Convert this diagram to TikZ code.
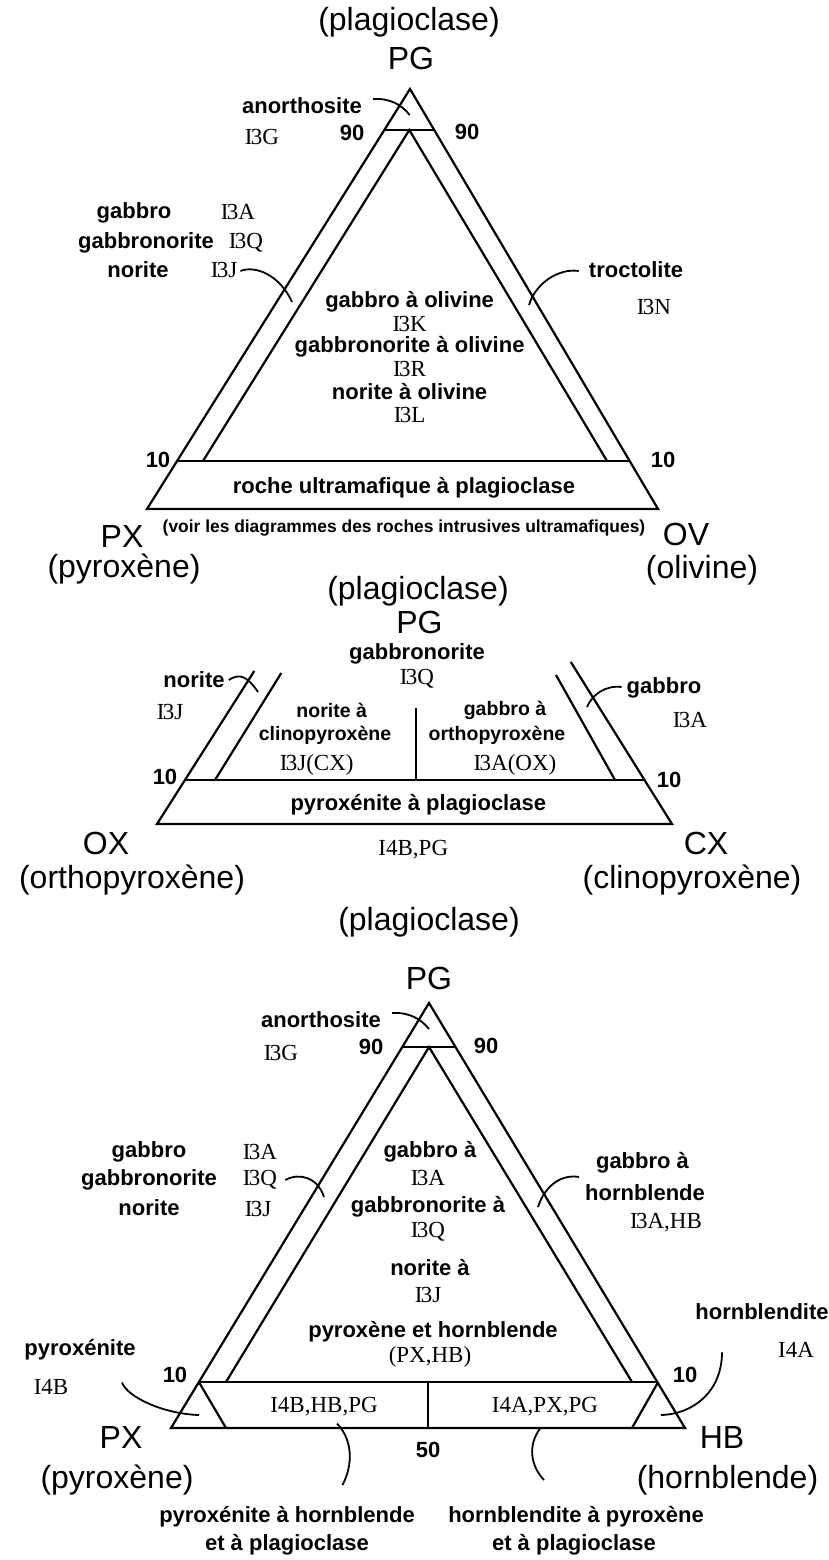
\documentclass[tikz,border=0pt]{standalone}
\usepackage{fontspec}
\setmainfont{Liberation Sans}
\newfontfamily\codefont{Liberation Serif}
\usetikzlibrary{calc}
\newcommand{\Ithree}{I\kern-0.07em 3}
\begin{document}
\begin{tikzpicture}[x=1pt,y=-1pt,
  trline/.style={line width=2.2pt, line join=miter, line cap=butt},
  ldr/.style={line width=1.8pt},
  bigl/.style={inner sep=0pt, font=\fontsize{32}{36}\selectfont},
  lbl/.style={inner sep=0pt, font=\fontsize{22}{24}\selectfont\bfseries},
  lbls/.style={inner sep=0pt, font=\fontsize{19.5}{22}\selectfont\bfseries},
  rcode/.style={inner sep=0pt, font=\codefont\fontsize{23}{25}\selectfont},
  numl/.style={inner sep=0pt, font=\fontsize{22}{24}\selectfont\bfseries},
]
\fill[white] (0,0) rectangle (829,1560);
\useasboundingbox (0,0) rectangle (829,1560);

% ---------- PG - PX - OV ----------
\coordinate (tA) at (410,89);
\coordinate (tL) at (147,509);
\coordinate (tR) at (658,509);
\coordinate (t90L) at (384.3,130);
\coordinate (t90R) at (434.2,130);
\coordinate (t10L) at (177,461);
\coordinate (t10R) at (629.7,461);
\coordinate (tI) at (409.3,130);
\coordinate (tIL) at (203,461);
\coordinate (tIR) at (607,461);
\draw[trline] (tA) -- (tL) -- (tR) -- cycle;
\draw[trline] (t90L) -- (t90R);
\draw[trline] (t10L) -- (t10R);
\draw[trline] (tIL) -- (tI) -- (tIR);

\node[bigl] (tplag) at (409,22) {(plagioclase)};
\node[bigl] (tPG) at (411,58) {PG};
\node[lbl] (tanor) at (302,106) {anorthosite};
\node[rcode] (tI3G) at (262,137) {\Ithree G};
\node[numl] (t90a) at (352,133) {90};
\node[numl] (t90b) at (467,132) {90};
\node[lbl] (tgab) at (134,213) {gabbro};
\node[lbl] (tgabn) at (146,243) {gabbronorite};
\node[lbl] (tnor) at (138,270) {norite};
\node[rcode] (tI3A) at (238,212) {\Ithree A};
\node[rcode] (tI3Q) at (246,243) {\Ithree Q};
\node[rcode] (tI3J) at (224,270) {\Ithree J};
\node[lbl] (ttroc) at (636,270) {troctolite};
\node[rcode] (tI3N) at (654,307) {\Ithree N};
\node[lbl] (tc1) at (409.6,302) {gabbro à olivine};
\node[rcode] (tc2) at (409.6,324) {\Ithree K};
\node[lbl] (tc3) at (409.6,347) {gabbronorite à olivine};
\node[rcode] (tc4) at (409.6,369) {\Ithree R};
\node[lbl] (tc5) at (409.6,392) {norite à olivine};
\node[rcode] (tc6) at (409.6,415) {\Ithree L};
\node[numl] (t10a) at (158,460) {10};
\node[numl] (t10b) at (663,460) {10};
\node[lbl] (troche) at (404,488) {roche ultramafique à plagioclase};
\node[inner sep=0pt, font=\fontsize{17.4}{19}\selectfont\bfseries] (tvoir) at (404,528)
  {(voir les diagrammes des roches intrusives ultramafiques)};
\node[bigl] (tPX) at (122,536) {PX};
\node[bigl] (tOV) at (686,534) {OV};
\node[bigl] (tpyx) at (124,569) {(pyroxène)};
\node[bigl] (toliv) at (702,570) {(olivine)};

\coordinate (tanorE) at (409.6,115);
\coordinate (tI3JE) at (292,302);
\coordinate (ttrocE) at (529,305);
\draw[ldr] ($(tanor.east)+(11,-7)$) .. controls (390,98) and (402,105) .. (tanorE);
\draw[ldr] ($(tI3J.east)+(3,1)$) .. controls (255,265) and (280,275) .. (tI3JE);
\draw[ldr] ($(ttroc.west)+(-10,1)$) .. controls (560,268) and (536,282) .. (ttrocE);

% ---------- PG - OX - CX ----------
\coordinate (mL) at (157,824);
\coordinate (mR) at (672,824);
\coordinate (mLt) at (254.3,671);
\coordinate (mRt) at (570.8,662);
\coordinate (m10L) at (185,780);
\coordinate (m10R) at (644.5,780);
\coordinate (mIL) at (215,780);
\coordinate (mILt) at (281.3,673);
\coordinate (mIR) at (615,780);
\coordinate (mIRt) at (556,675);
\coordinate (mDt) at (416,708);
\coordinate (mDb) at (416,780);
\draw[trline] (mLt) -- (mL) -- (mR) -- (mRt);
\draw[trline] (m10L) -- (m10R);
\draw[trline] (mIL) -- (mILt);
\draw[trline] (mIR) -- (mIRt);
\draw[trline] (mDt) -- (mDb);

\node[bigl] (mplag) at (418,591) {(plagioclase)};
\node[bigl] (mPG) at (419.5,622) {PG};
\node[lbl] (mgabn) at (417,654) {gabbronorite};
\node[rcode] (mI3Q) at (417,679) {\Ithree Q};
\node[lbl] (mnor) at (194,680) {norite};
\node[rcode] (mI3J) at (170,712) {\Ithree J};
\node[lbl] (mgab) at (664,688) {gabbro};
\node[rcode] (mI3A) at (690,720) {\Ithree A};
\node[lbls] (ml1) at (331.7,710) {norite à};
\node[lbls] (ml2) at (325,735) {clinopyroxène};
\node[rcode] (ml3) at (316.7,765) {\Ithree J(CX)};
\node[lbls] (mr1) at (505,710) {gabbro à};
\node[lbls] (mr2) at (497,735) {orthopyroxène};
\node[rcode] (mr3) at (515,765) {\Ithree A(OX)};
\node[numl] (m10a) at (165,777) {10};
\node[numl] (m10b) at (669,780) {10};
\node[lbl] (mpyr) at (418.3,805) {pyroxénite à plagioclase};
\node[rcode] (mI4B) at (413.3,850) {I4B,PG};
\node[bigl] (mOX) at (106,843) {OX};
\node[bigl] (mCX) at (706,843) {CX};
\node[bigl] (mopx) at (132,880) {(orthopyroxène)};
\node[bigl] (mcpx) at (692,880) {(clinopyroxène)};

\coordinate (mnorE) at (258,692);
\coordinate (mgabE) at (587,707);
\draw[ldr] ($(mnor.east)+(4,0)$) .. controls (238,674) and (246,674) .. (mnorE);
\draw[ldr] ($(mgab.west)+(-5,-1)$) .. controls (605,685) and (592,695) .. (mgabE);

% ---------- PG - PX - HB ----------
\coordinate (bA) at (429,1003);
\coordinate (bL) at (171,1428);
\coordinate (bR) at (685,1428);
\coordinate (b90L) at (402.3,1047);
\coordinate (b90R) at (455.6,1047);
\coordinate (b10L) at (198.9,1382);
\coordinate (b10R) at (658.2,1382);
\coordinate (bI) at (429,1047);
\coordinate (bIL) at (226,1382);
\coordinate (bIR) at (632,1382);
\coordinate (bSL) at (226,1428);
\coordinate (bSR) at (632,1428);
\coordinate (bDt) at (428,1382);
\coordinate (bDb) at (428,1428);
\draw[trline] (bA) -- (bL) -- (bR) -- cycle;
\draw[trline] (b90L) -- (b90R);
\draw[trline] (b10L) -- (b10R);
\draw[trline] (bIL) -- (bI) -- (bIR);
\draw[trline] (b10L) -- (bSL);
\draw[trline] (b10R) -- (bSR);
\draw[trline] (bDt) -- (bDb);

\node[bigl] (bplag) at (429,922) {(plagioclase)};
\node[bigl] (bPG) at (429,978) {PG};
\node[lbl] (banor) at (321,1020) {anorthosite};
\node[rcode] (bI3G) at (281,1053) {\Ithree G};
\node[numl] (b90a) at (371,1047) {90};
\node[numl] (b90b) at (486,1046) {90};
\node[lbl] (bgab) at (149,1152) {gabbro};
\node[lbl] (bgabn) at (149,1180) {gabbronorite};
\node[lbl] (bnor) at (149,1208) {norite};
\node[rcode] (bI3A) at (260,1152) {\Ithree A};
\node[rcode] (bI3Q) at (260,1180) {\Ithree Q};
\node[rcode] (bI3J) at (258,1209) {\Ithree J};
\node[lbl] (bc1) at (430,1152) {gabbro à};
\node[rcode] (bc2) at (428,1178) {\Ithree A};
\node[lbl] (bc3) at (428,1207) {gabbronorite à};
\node[rcode] (bc4) at (428,1232) {\Ithree Q};
\node[lbl] (bc5) at (430,1268) {norite à};
\node[rcode] (bc6) at (428,1295) {\Ithree J};
\node[lbl] (bc7) at (433,1332) {pyroxène et hornblende};
\node[rcode] (bc8) at (430,1357) {(PX,HB)};
\node[lbl] (bgr1) at (642.5,1163) {gabbro à};
\node[lbl] (bgr2) at (645,1193) {hornblende};
\node[rcode] (bgr3) at (666,1223) {\Ithree A,HB};
\node[lbl] (bpyr) at (80,1350) {pyroxénite};
\node[rcode] (bI4B) at (51,1387) {I4B};
\node[lbl] (bhbl) at (762,1312) {hornblendite};
\node[rcode] (bI4A) at (796,1350) {I4A};
\node[numl] (b10a) at (175,1375) {10};
\node[numl] (b10b) at (685,1375) {10};
\node[rcode] (bs1) at (324,1407) {I4B,HB,PG};
\node[rcode] (bs2) at (545,1407) {I4A,PX,PG};
\node[numl] (b50) at (428,1450) {50};
\node[bigl] (bPX) at (121,1437) {PX};
\node[bigl] (bHB) at (722,1437) {HB};
\node[bigl] (bpyx) at (117,1480) {(pyroxène)};
\node[bigl] (bhbx) at (727.5,1480) {(hornblende)};
\node[lbl] (bb1) at (287,1517) {pyroxénite à hornblende};
\node[lbl] (bb2) at (287,1545) {et à plagioclase};
\node[lbl] (bb3) at (576,1517) {hornblendite à pyroxène};
\node[lbl] (bb4) at (574,1545) {et à plagioclase};

\coordinate (banorE) at (429,1029);
\coordinate (bI3QE) at (324,1197);
\coordinate (bgrE) at (538,1207);
\coordinate (bpyrE) at (199,1415);
\coordinate (bhblE) at (661,1415);
\coordinate (bs1E) at (342.5,1485);
\coordinate (bs2E) at (544,1480);
\draw[ldr] ($(banor.east)+(11,-7)$) .. controls (409,1012) and (421,1019) .. (banorE);
\draw[ldr] ($(bI3Q.east)+(8,0)$) .. controls (300,1172) and (318,1178) .. (bI3QE);
\draw[ldr] ($(bgr2.west)+(-6,-16)$) .. controls (562,1174) and (545,1185) .. (bgrE);
\draw[ldr] ($(bpyr.south)+(42,22)$) .. controls (128,1398) and (165,1414) .. (bpyrE);
\draw[ldr] ($(bhbl.south)+(-40,32)$) .. controls (722,1390) and (695,1414) .. (bhblE);
\draw[ldr] ($(bs1.south)+(13,7)$) .. controls (353,1440) and (353,1465) .. (bs1E);
\draw[ldr] ($(bs2.south)+(-5,12)$) .. controls (528,1445) and (530,1465) .. (bs2E);
\end{tikzpicture}
\end{document}
